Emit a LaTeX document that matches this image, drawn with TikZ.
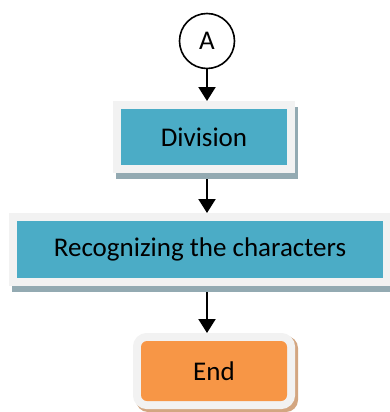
\documentclass[tikz,border=0pt]{standalone}
\usepackage{fontspec}
\setmainfont{Carlito}
\usetikzlibrary{arrows.meta,backgrounds}
\definecolor{teal1}{HTML}{4BACC6}
\definecolor{frame1}{HTML}{F2F2F2}
\definecolor{tealshadow}{HTML}{93AAB2}
\definecolor{orange1}{HTML}{F79646}
\definecolor{orangeshadow}{HTML}{D3A681}
\tikzset{
  boxbase/.style={inner sep=0pt, outer sep=8pt, font=\fontsize{27}{32}\selectfont, text=black},
  tealbox/.style={boxbase, rectangle, fill=teal1, preaction={draw=frame1, line width=16pt}},
  endbox/.style={boxbase, rectangle, rounded corners=6pt, fill=orange1, preaction={draw=frame1, line width=16pt}},
  conn/.style={circle, draw=black, line width=1.6pt, fill=white, minimum size=55pt, inner sep=0pt, font=\fontsize{27}{32}\selectfont},
  arr/.style={line width=2.2pt, -{Triangle[width=17pt,length=14pt]}},
}
\begin{document}
\begin{tikzpicture}[x=1pt,y=-1pt]
\useasboundingbox (0,0) rectangle (390,412);
\node[conn] (A) at (207,41) {A};
\node[tealbox, minimum width=166pt, minimum height=56pt] (div) at (204,137) {Division};
\node[tealbox, minimum width=366pt, minimum height=57pt] (rec) at (200,249.5) {Recognizing the characters};
\node[endbox, minimum width=146pt, minimum height=60pt] (end) at (214,371) {End};
\begin{scope}[on background layer]
  \fill[tealshadow] ([shift={(3pt,-6pt)}]div.south west) rectangle ([shift={(3pt,-6pt)}]div.north east);
  \fill[tealshadow] ([shift={(3pt,-6pt)}]rec.south west) rectangle ([shift={(3pt,-6pt)}]rec.north east);
  \fill[orangeshadow, rounded corners=12pt] ([shift={(3pt,-3pt)}]end.south west) rectangle ([shift={(3pt,-3pt)}]end.north east);
\end{scope}
\coordinate (d1) at ([yshift=-6pt]div.south -| A);
\coordinate (r1) at ([yshift=-6pt]rec.south -| A);
\draw[arr] (A.south) -- (A |- div.north);
\draw[arr] (d1) -- (A |- rec.north);
\draw[arr] (r1) -- (A |- end.north);
\end{tikzpicture}
\end{document}
